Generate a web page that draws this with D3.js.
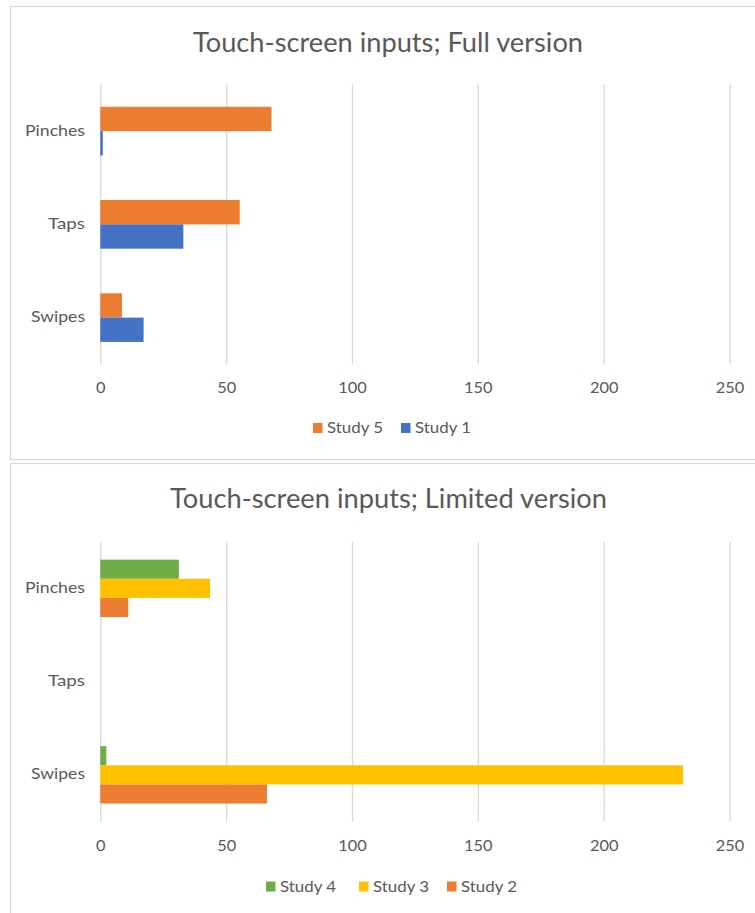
<!DOCTYPE html>
<html>
<head>
<meta charset="utf-8">
<script src="https://cdn.jsdelivr.net/npm/d3@7"></script>
<style>
  html, body { margin: 0; padding: 0; background: #ffffff; }
  svg { display: block; }
  text { font-family: Lato, "Open Sans", sans-serif; fill: #595959; }
</style>
</head>
<body>
<svg id="chart" width="755" height="913"></svg>
<script>
// Input categories shared by both charts
const categories = ["Pinches", "Taps", "Swipes"];
const xTicks = [0, 50, 100, 150, 200, 250];

// Full version
const fullSeries = ["Study 5", "Study 1"];
const fullStudy5 = [68, 55.4, 8.6];
const fullStudy1 = [1, 33, 17.2];

// Limited version
const limitedSeries = ["Study 4", "Study 3", "Study 2"];
const limitedStudy4 = [31.2, 0, 2.4];
const limitedStudy3 = [43.6, 0, 231.5];
const limitedStudy2 = [11.1, 0, 66.2];

const colors = {
  "Study 1": "#4472C4",
  "Study 2": "#ED7D31",
  "Study 3": "#FFC000",
  "Study 4": "#70AD47",
  "Study 5": "#ED7D31"
};

const svg = d3.select("#chart");

function drawChart(cfg) {
  const g = svg.append("g");

  // chart frame
  g.append("rect")
    .attr("x", cfg.frame[0] + 0.5).attr("y", cfg.frame[1] + 0.5)
    .attr("width", cfg.frame[2]).attr("height", cfg.frame[3])
    .attr("fill", "#ffffff").attr("stroke", "#d9d9d9").attr("stroke-width", 1.2);

  // title
  g.append("text")
    .attr("x", cfg.titleX[0]).attr("y", cfg.titleBase)
    .attr("textLength", cfg.titleX[1] - cfg.titleX[0])
    .attr("lengthAdjust", "spacingAndGlyphs")
    .style("font-size", "27px")
    .text(cfg.title);

  const x = d3.scaleLinear().domain([0, 250]).range([100.3, 729.5]);
  const y = d3.scaleBand().domain(categories)
    .range([cfg.plotTop, cfg.plotBottom])
    .paddingInner(cfg.pad).paddingOuter(cfg.pad / 2);
  const ySub = d3.scaleBand().domain(cfg.series).range([0, y.bandwidth()]);

  // vertical gridlines with value labels
  const axis = d3.axisBottom(x).tickValues(xTicks)
    .tickSize(-(cfg.plotBottom - cfg.plotTop)).tickPadding(0).tickFormat(d3.format("d"));
  const ax = g.append("g")
    .attr("transform", `translate(0,${cfg.plotBottom})`)
    .call(axis);
  ax.select(".domain").remove();
  ax.selectAll(".tick line").attr("stroke", "#d9d9d9").attr("stroke-width", 1.3);
  ax.selectAll(".tick text")
    .attr("y", cfg.tickBase - cfg.plotBottom)
    .attr("dy", null)
    .attr("fill", "#595959")
    .style("font-family", "Lato, sans-serif")
    .style("font-size", "15px")
    .attr("textLength", d => String(d).length * 9.5)
    .attr("lengthAdjust", "spacingAndGlyphs");

  // category labels
  const labelW = { "Pinches": 60, "Taps": 37, "Swipes": 54 };
  g.selectAll(".cat").data(categories).join("text")
    .attr("class", "cat")
    .attr("x", 85).attr("y", d => y(d) + y.bandwidth() / 2 + 4.5)
    .attr("text-anchor", "end")
    .attr("textLength", d => labelW[d])
    .attr("lengthAdjust", "spacingAndGlyphs")
    .style("font-size", "16px")
    .text(d => d);

  // bars
  cfg.series.forEach((s, si) => {
    const vals = cfg.values[si];
    g.append("g").selectAll("rect").data(categories).join("rect")
      .attr("x", x(0))
      .attr("y", (c) => y(c) + ySub(s))
      .attr("width", (c, i) => x(vals[i]) - x(0))
      .attr("height", ySub.bandwidth())
      .attr("fill", colors[s]);
  });

  // legend
  const lg = g.append("g");
  cfg.series.forEach((s, si) => {
    const lx = cfg.legendX[si];
    lg.append("rect")
      .attr("x", lx).attr("y", cfg.legendY - 5)
      .attr("width", 9.5).attr("height", 10)
      .attr("fill", colors[s]);
    lg.append("text")
      .attr("x", lx + 14).attr("y", cfg.legendY + 5.2)
      .attr("textLength", 56)
      .attr("lengthAdjust", "spacingAndGlyphs")
      .style("font-size", "15px")
      .text(s);
  });
}

drawChart({
  frame: [10, 6, 760, 453],
  title: "Touch-screen inputs; Full version",
  titleX: [193, 583], titleBase: 52,
  plotTop: 84.5, plotBottom: 364.2, pad: 0.478,
  tickBase: 393.5,
  series: fullSeries,
  values: [fullStudy5, fullStudy1],
  legendX: [313, 401], legendY: 428
});

drawChart({
  frame: [10, 463, 760, 470],
  title: "Touch-screen inputs; Limited version",
  titleX: [170, 607], titleBase: 508,
  plotTop: 541.7, plotBottom: 821.5, pad: 0.385,
  tickBase: 850.5,
  series: limitedSeries,
  values: [limitedStudy4, limitedStudy3, limitedStudy2],
  legendX: [266, 359, 447], legendY: 886.5
});
</script>
</body>
</html>
